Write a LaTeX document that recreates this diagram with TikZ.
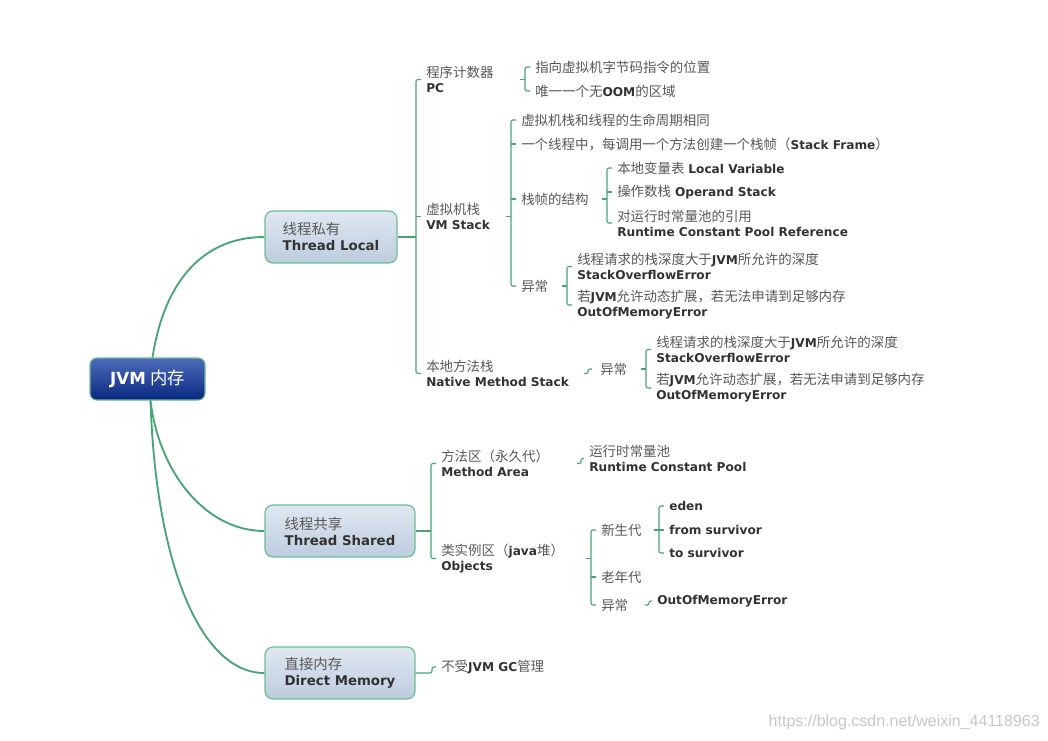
\documentclass[tikz,border=0pt]{standalone}
\usepackage{fontspec}
\setmainfont{DejaVu Sans}
\newfontfamily\cjk{Noto Sans CJK SC}
\newfontfamily\wmfont{Liberation Sans}
\usetikzlibrary{calc}
\definecolor{lnk}{RGB}{72,165,118}
\definecolor{cjkc}{RGB}{88,88,88}
\definecolor{latc}{RGB}{50,50,50}
\definecolor{boxtop}{RGB}{224,232,241}
\definecolor{boxbot}{RGB}{188,204,222}
\definecolor{boxedge}{RGB}{108,190,150}
\definecolor{rootTop}{RGB}{78,108,186}
\definecolor{rootMid}{RGB}{14,52,146}
\definecolor{rootBot}{RGB}{8,40,128}
\newcommand\zh[1]{{\cjk\fontsize{10.1}{11.25}\selectfont\color{cjkc}#1}}
\newcommand\en[1]{{\bfseries\color{latc}#1}}
\newcommand\bzh[1]{{\cjk\fontsize{10.8}{12}\selectfont\color{cjkc}#1}}
\newcommand\ben[1]{{\fontsize{10}{12}\selectfont\bfseries\color{latc}#1}}
\newcommand\mybrack[4]{%
  \draw[brk] ($(#3.west)+(-5,0)$) -- (#3.west -| #1) -- (#4.west -| #1) -- ($(#4.west)+(-5,0)$);
  \draw[brk] (#2.west -| #1) -- ++(-5,0);}
\newcommand\mytick[2]{\draw[brk] (#2.west -| #1) -- ($(#2.west)+(-5,0)$);}
\tikzset{
  lbl/.style={anchor=west, inner sep=0pt, align=left, font=\fontsize{9.1}{11.25}\selectfont},
  brk/.style={draw=lnk, line width=0.85pt, rounded corners=1.5pt},
  trunk/.style={draw=lnk, line width=1.4pt},
  topic/.style={rounded corners=6pt, draw=boxedge, line width=0.9pt, top color=boxtop, bottom color=boxbot, minimum height=39pt, align=left, inner sep=0pt},
  rootbox/.style={rounded corners=5pt, draw=boxedge, line width=0.8pt, top color=rootTop, middle color=rootMid, bottom color=rootBot, minimum width=86.25pt, minimum height=31.5pt, inner sep=0pt, text=white}
}
\begin{document}
\begin{tikzpicture}[x=0.75pt,y=-0.75pt]
\fill[white] (0,0) rectangle (1048,740);
\useasboundingbox (0,0) rectangle (1048,740);

% root and main topics
\node[rootbox] (root) at (147.5,379) {{\fontsize{12.5}{14}\selectfont\bfseries JVM} {\cjk\fontsize{13}{14}\selectfont 内存}};
\node[topic, minimum width=99pt] (tl) at (331,237) {\bzh{线程私有}\\\ben{Thread Local}};
\node[topic, minimum width=112.5pt] (ts) at (340,531) {\bzh{线程共享}\\\ben{Thread Shared}};
\node[topic, minimum width=112.5pt] (dm) at (340,673) {\bzh{直接内存}\\\ben{Direct Memory}};

\draw[trunk] ($(root.north)+(5,0)$) .. controls +(12,-78) and +(-60,0) .. (tl.west);
\draw[trunk] ($(root.south)+(3,0)$) .. controls +(8,70) and +(-60,0) .. (ts.west);
\draw[trunk] ($(root.south)+(3,0)$) .. controls +(5,160) and +(-65,0) .. (dm.west);

% Thread Local branch
\node[lbl] (pc) at (426,79.5) {\zh{程序计数器}\\\en{PC}};
\node[lbl] (vms) at (426,216.5) {\zh{虚拟机栈}\\\en{VM Stack}};
\node[lbl] (nms) at (426,373.5) {\zh{本地方法栈}\\\en{Native Method Stack}};
\coordinate (bTL) at (416,0);
\draw[brk] (tl.east) -- (tl.east -| bTL);
\draw[brk] ($(pc.west)+(-5,0)$) -- (pc.west -| bTL) -- (nms.west -| bTL) -- ($(nms.west)+(-5,0)$);
\mytick{bTL}{vms}

\node[lbl] (pc1) at (535,67) {\zh{指向虚拟机字节码指令的位置}};
\node[lbl] (pc2) at (535,91) {\zh{唯一一个无}\en{OOM}\zh{的区域}};
\coordinate (bPC) at (525,0);
\mybrack{bPC}{pc}{pc1}{pc2}

\node[lbl] (vm1) at (521,120) {\zh{虚拟机栈和线程的生命周期相同}};
\node[lbl] (vm2) at (521,144) {\zh{一个线程中，每调用一个方法创建一个栈帧（}\en{Stack Frame}\zh{）}};
\node[lbl] (vm3) at (521,199) {\zh{栈帧的结构}};
\node[lbl] (vm4) at (521,286) {\zh{异常}};
\coordinate (bVM) at (511,0);
\mybrack{bVM}{vms}{vm1}{vm4}
\mytick{bVM}{vm2}
\mytick{bVM}{vm3}

\node[lbl] (f1) at (617,168) {\zh{本地变量表} \en{Local Variable}};
\node[lbl] (f2) at (617,192) {\zh{操作数栈} \en{Operand Stack}};
\node[lbl] (f3) at (617,223) {\zh{对运行时常量池的引用}\\\en{Runtime Constant Pool Reference}};
\coordinate (bF) at (607,0);
\mybrack{bF}{vm3}{f1}{f3}
\mytick{bF}{f2}

\node[lbl] (e1) at (577,266.5) {\zh{线程请求的栈深度大于}\en{JVM}\zh{所允许的深度}\\\en{StackOverflowError}};
\node[lbl] (e2) at (577,305) {\zh{若}\en{JVM}\zh{允许动态扩展，若无法申请到足够内存}\\\en{OutOfMemoryError}};
\coordinate (bE) at (567,0);
\mybrack{bE}{vm4}{e1}{e2}

\node[lbl] (n1) at (600,369) {\zh{异常}};
\draw[brk] ($(n1.west |- nms.west)+(-16,0)$) -- ++(4,0) |- ($(n1.west)+(-8,0)$);
\node[lbl] (n11) at (656,349.5) {\zh{线程请求的栈深度大于}\en{JVM}\zh{所允许的深度}\\\en{StackOverflowError}};
\node[lbl] (n12) at (656,388) {\zh{若}\en{JVM}\zh{允许动态扩展，若无法申请到足够内存}\\\en{OutOfMemoryError}};
\coordinate (bN) at (646,0);
\mybrack{bN}{n1}{n11}{n12}

% Thread Shared branch
\node[lbl] (ma) at (441,463.5) {\zh{方法区（永久代）}\\\en{Method Area}};
\node[lbl] (obj) at (441,558.5) {\zh{类实例区（}\en{java}\zh{堆）}\\\en{Objects}};
\coordinate (bTS) at (431,0);
\draw[brk] (ts.east) -- (ts.east -| bTS);
\draw[brk] ($(ma.west)+(-5,0)$) -- (ma.west -| bTS) -- (obj.west -| bTS) -- ($(obj.west)+(-5,0)$);

\node[lbl] (ma1) at (589,458.5) {\zh{运行时常量池}\\\en{Runtime Constant Pool}};
\draw[brk] ($(ma1.west |- ma.west)+(-12,0)$) -- ++(4,0) |- ($(ma1.west)+(-5,0)$);

\node[lbl] (o1) at (601,530) {\zh{新生代}};
\node[lbl] (o2) at (601,577) {\zh{老年代}};
\node[lbl] (o3) at (601,605) {\zh{异常}};
\coordinate (bO) at (591,0);
\mybrack{bO}{obj}{o1}{o3}
\mytick{bO}{o2}

\node[lbl] (y1) at (669,506) {\en{eden}};
\node[lbl] (y2) at (669,530) {\en{from survivor}};
\node[lbl] (y3) at (669,553) {\en{to survivor}};
\coordinate (bY) at (659,0);
\mybrack{bY}{o1}{y1}{y3}
\mytick{bY}{y2}

\node[lbl] (o31) at (657,601) {\en{OutOfMemoryError}};
\draw[brk] ($(o31.west |- o3.west)+(-12,0)$) -- ++(4,0) |- ($(o31.west)+(-5,0)$);

% Direct Memory branch
\node[lbl] (d1) at (441,667) {\zh{不受}\en{JVM GC}\zh{管理}};
\draw[brk] (dm.east) -- ($(d1.west |- dm.east)+(-9,0)$) |- ($(d1.west)+(-5,0)$);

% watermark
\node[anchor=east, inner sep=0pt, font=\wmfont\fontsize{12}{13}\selectfont, text=black!22] (wm) at (1040,722) {https://blog.csdn.net/weixin\_44118963};
\end{tikzpicture}
\end{document}
